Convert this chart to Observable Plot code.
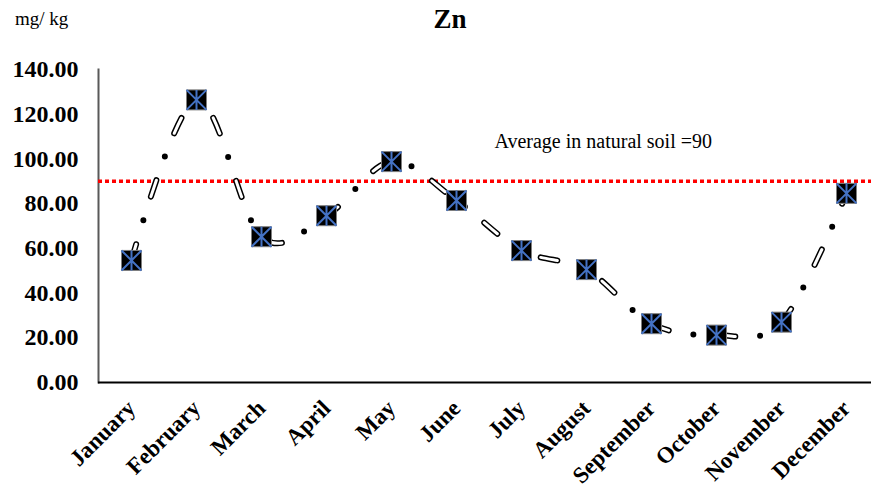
<!DOCTYPE html>
<html><head><meta charset="utf-8">
<script src="https://cdn.jsdelivr.net/npm/d3@7"></script>
<script src="https://cdn.jsdelivr.net/npm/@observablehq/plot@0.6"></script>
<style>
body{margin:0;background:#fff;}
#wrap{position:relative;width:871px;height:498px;font-family:"Liberation Serif","Times New Roman",serif;}
#title{position:absolute;left:0;width:900px;top:4px;text-align:center;font-weight:bold;font-size:27px;}
#unit{position:absolute;left:15px;top:8px;font-size:19px;}
</style></head><body>
<div id="wrap"><div id="unit">mg/ kg</div><div id="title">Zn</div></div>
<script>
const months = ["January","February","March","April","May","June","July","August","September","October","November","December"];
const zn = [54.6, 126.4, 65.2, 74.6, 98.8, 81.4, 59.0, 50.5, 26.3, 21.2, 27.0, 84.6];
const yTicks = [0,20,40,60,80,100,120,140];
const naturalAvg = 90;
const avgLabel = "Average in natural soil =90";

const data = months.map((m,i)=>({month:m, value:zn[i]}));

const squareSym = {draw(ctx,size){const h=Math.sqrt(size/Math.PI);ctx.rect(-h,-h,2*h,2*h);}};
const starSym = {draw(ctx,size){const h=Math.sqrt(size/Math.PI);
  ctx.moveTo(-h,-h);ctx.lineTo(h,h);ctx.moveTo(h,-h);ctx.lineTo(-h,h);ctx.moveTo(0,-h);ctx.lineTo(0,h);}};

const dashPattern = "17 25 0 25";
const plot = Plot.plot({
  width: 871, height: 498,
  marginLeft: 98, marginRight: 0, marginTop: 69, marginBottom: 116,
  style: {fontFamily: '"Liberation Serif","Times New Roman",serif', background:"transparent"},
  x: {type:"point", domain: months, range:[98, 878], padding:0.5, label:null},
  y: {domain:[0,140], ticks: yTicks, label:null},
  marks: [
    Plot.axisY({ticks: yTicks, tickFormat: d=>d.toFixed(2), tickSize:0, tickPadding:20, fontSize:24, fontWeight:"bold", fill:"#000", label:null}),
    Plot.axisX({tickSize:0, tickRotate:-45, tickPadding:22, fontSize:23, fontWeight:"bold", fill:"#000", label:null}),
    Plot.frame({anchor:"left", stroke:"#595959", strokeWidth:2}),
    Plot.ruleY([0], {stroke:"#000", strokeWidth:2}),
    Plot.ruleY([naturalAvg], {stroke:"#ff0000", strokeWidth:3.5, strokeDasharray:"4 3"}),
    Plot.text([avgLabel], {x:()=>"June", y:()=>107.8, text:d=>d, textAnchor:"start", dx:38, fontSize:20, fill:"#000"}),
    Plot.line(data, {x:"month", y:"value", curve:"cardinal", stroke:"#000", strokeWidth:6, strokeLinecap:"round", strokeDasharray:dashPattern, strokeDashoffset:0}),
    Plot.line(data, {x:"month", y:"value", curve:"cardinal", stroke:"#fff", strokeWidth:3, strokeLinecap:"round", strokeDasharray:"17 50", strokeDashoffset:0}),
    Plot.dot(data, {x:"month", y:"value", symbol:squareSym, r:10, fill:"#000", stroke:"#7f7f7f", strokeWidth:1}),
    Plot.dot(data, {x:"month", y:"value", symbol:starSym, r:10, fill:"none", stroke:"#4472c4", strokeWidth:2})
  ]
});
document.getElementById("wrap").appendChild(plot);
plot.style.position="absolute";plot.style.left="0";plot.style.top="0";
document.getElementById("title").style.zIndex=2;
document.getElementById("unit").style.zIndex=2;
</script></body></html>
